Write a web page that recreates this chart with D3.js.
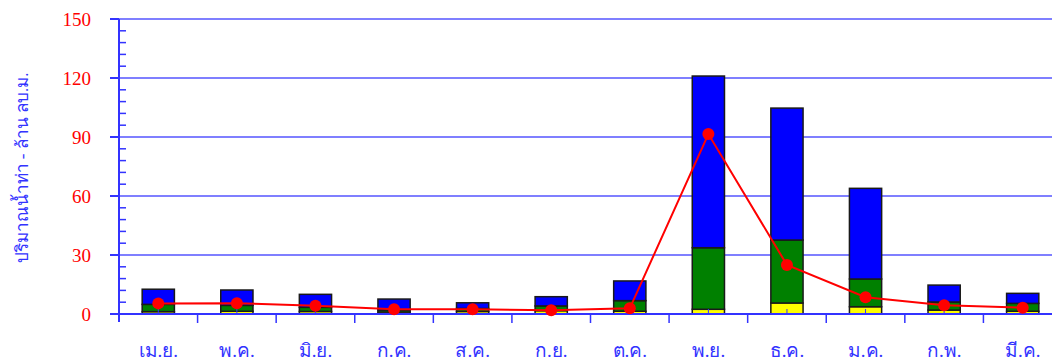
<!DOCTYPE html>
<html>
<head>
<meta charset="utf-8">
<script src="https://cdn.jsdelivr.net/npm/d3@7"></script>
<style>
  body { margin: 0; background: #fff; }
  svg { display: block; }
</style>
</head>
<body>
<script>
var months = ["เม.ย.", "พ.ค.", "มิ.ย.", "ก.ค.", "ส.ค.", "ก.ย.", "ต.ค.", "พ.ย.", "ธ.ค.", "ม.ค.", "ก.พ.", "มี.ค."];

// stacked parts, bottom to top
var yellowVals = [1.2, 1.4, 1.3, 1.0, 1.3, 1.7, 1.4, 2.4, 5.6, 3.7, 2.0, 1.4];
var greenVals  = [3.7, 3.0, 2.1, 1.0, 1.5, 2.4, 5.4, 31.3, 32.0, 14.1, 4.1, 4.0];
var blueVals   = [7.7, 7.8, 6.6, 5.6, 2.9, 4.7, 10.0, 87.3, 67.1, 46.1, 8.6, 5.1];

// red line
var lineVals = [5.4, 5.5, 4.2, 2.4, 2.4, 1.9, 2.9, 91.5, 24.9, 8.5, 4.4, 3.2];

var yTicks = [0, 30, 60, 90, 120, 150];

var width = 1052, height = 362;
var plotLeft = 119, plotRight = 1062, plotTop = 19, plotBottom = 314;

var svg = d3.select("body").append("svg")
  .attr("width", width)
  .attr("height", height);

var x = d3.scaleBand().domain(months).range([plotLeft, plotRight]);
var y = d3.scaleLinear().domain([0, 150]).range([plotBottom, plotTop]);

// grid lines
svg.append("g")
  .selectAll("line")
  .data(yTicks.slice(1))
  .enter()
  .append("line")
  .attr("x1", plotLeft)
  .attr("x2", width)
  .attr("y1", function (d) { return y(d); })
  .attr("y2", function (d) { return y(d); })
  .attr("stroke", "#7f7fff")
  .attr("stroke-width", 2);

// stacked bars
var rows = months.map(function (m, i) {
  return { month: m, yellow: yellowVals[i], green: greenVals[i], blue: blueVals[i] };
});
var stack = d3.stack().keys(["yellow", "green", "blue"]);
var colors = { yellow: "#ffff00", green: "#008000", blue: "#0000ff" };
var barW = x.bandwidth() * 0.41;

var layers = svg.append("g")
  .selectAll("g")
  .data(stack(rows))
  .enter()
  .append("g")
  .attr("fill", function (d) { return colors[d.key]; });

layers.selectAll("rect")
  .data(function (d) { return d; })
  .enter()
  .append("rect")
  .attr("x", function (d) { return x(d.data.month) + x.bandwidth() / 2 - barW / 2; })
  .attr("width", barW)
  .attr("y", function (d) { return y(d[1]); })
  .attr("height", function (d) { return y(d[0]) - y(d[1]); })
  .attr("stroke", "#1a1a1a")
  .attr("stroke-width", 1.5);

// axes
var yAxis = svg.append("g");
yAxis.append("line")
  .attr("x1", plotLeft).attr("x2", plotLeft)
  .attr("y1", plotTop).attr("y2", plotBottom + 8)
  .attr("stroke", "#3333ff").attr("stroke-width", 2);

yAxis.selectAll(".major")
  .data(yTicks)
  .enter()
  .append("line")
  .attr("x1", plotLeft - 9).attr("x2", plotLeft)
  .attr("y1", function (d) { return y(d); })
  .attr("y2", function (d) { return y(d); })
  .attr("stroke", "#3333ff").attr("stroke-width", 2);

yAxis.selectAll(".minor")
  .data(d3.range(0, 150, 6).filter(function (d) { return d % 30 !== 0; }))
  .enter()
  .append("line")
  .attr("x1", plotLeft).attr("x2", plotLeft + 7)
  .attr("y1", function (d) { return y(d); })
  .attr("y2", function (d) { return y(d); })
  .attr("stroke", "#3333ff").attr("stroke-width", 1.5);

yAxis.selectAll("text")
  .data(yTicks)
  .enter()
  .append("text")
  .attr("x", 91)
  .attr("y", function (d) { return y(d); })
  .attr("dy", "0.35em")
  .attr("text-anchor", "end")
  .attr("fill", "#ff0000")
  .style("font-family", "'Liberation Serif', 'Times New Roman', serif")
  .style("font-size", "19px")
  .text(function (d) { return d; });

var xAxis = svg.append("g");
xAxis.append("line")
  .attr("x1", plotLeft - 9).attr("x2", width)
  .attr("y1", plotBottom).attr("y2", plotBottom)
  .attr("stroke", "#3333ff").attr("stroke-width", 2);

xAxis.selectAll(".bound")
  .data(months.slice(1))
  .enter()
  .append("line")
  .attr("x1", function (d) { return x(d); })
  .attr("x2", function (d) { return x(d); })
  .attr("y1", plotBottom).attr("y2", plotBottom + 9)
  .attr("stroke", "#3333ff").attr("stroke-width", 1.5);

xAxis.selectAll(".mid")
  .data(months)
  .enter()
  .append("line")
  .attr("x1", function (d) { return x(d) + x.bandwidth() / 2; })
  .attr("x2", function (d) { return x(d) + x.bandwidth() / 2; })
  .attr("y1", plotBottom).attr("y2", plotBottom - 5)
  .attr("stroke", "#3333ff").attr("stroke-width", 1);

xAxis.selectAll("text")
  .data(months)
  .enter()
  .append("text")
  .attr("x", function (d) { return x(d) + x.bandwidth() / 2; })
  .attr("y", 350)
  .attr("dy", "0.35em")
  .attr("text-anchor", "middle")
  .attr("fill", "#3333ff")
  .style("font-family", "'Liberation Serif', 'Times New Roman', serif")
  .style("font-size", "19px")
  .text(function (d) { return d; });

// y title
svg.append("text")
  .attr("transform", "translate(22,168) rotate(-90)")
  .attr("dy", "0.35em")
  .attr("text-anchor", "middle")
  .attr("fill", "#3333ff")
  .style("font-family", "'Liberation Serif', 'Times New Roman', serif")
  .style("font-size", "17px")
  .text("ปริมาณน้ำท่า - ล้าน ลบ.ม.");

// red line with dots
var line = d3.line()
  .x(function (d, i) { return x(months[i]) + x.bandwidth() / 2; })
  .y(function (d) { return y(d); });

svg.append("path")
  .datum(lineVals)
  .attr("d", line)
  .attr("fill", "none")
  .attr("stroke", "#ff0000")
  .attr("stroke-width", 2);

svg.append("g")
  .selectAll("circle")
  .data(lineVals)
  .enter()
  .append("circle")
  .attr("cx", function (d, i) { return x(months[i]) + x.bandwidth() / 2; })
  .attr("cy", function (d) { return y(d); })
  .attr("r", 6)
  .attr("fill", "#ff0000");
</script>
</body>
</html>
